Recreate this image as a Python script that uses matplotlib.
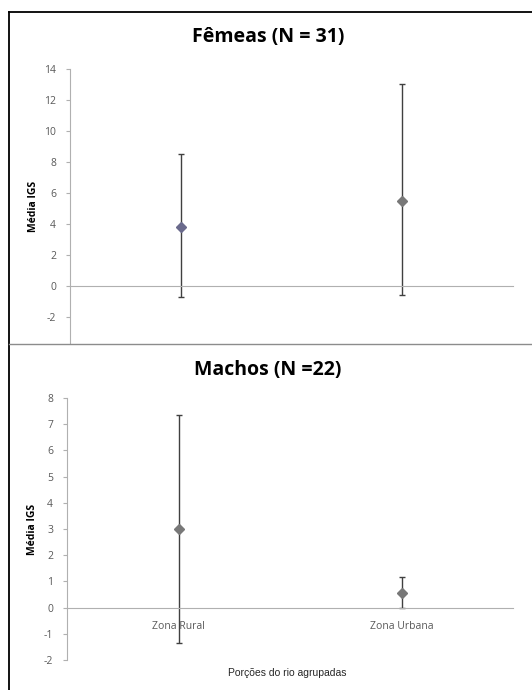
import matplotlib
matplotlib.use("Agg")
import matplotlib.pyplot as plt
from matplotlib.lines import Line2D

plt.rcParams["font.family"] = ["Open Sans", "DejaVu Sans"]

W, H = 532, 690
DPI = 100

categorias = ["Zona Rural", "Zona Urbana"]

# médias e limites das barras de erro (IGS)
femeas_media = [3.8, 5.5]
femeas_sup = [8.5, 13.0]
femeas_inf = [-0.7, -0.6]

machos_media = [3.0, 0.57]
machos_sup = [7.35, 1.15]
machos_inf = [-1.37, 0.0]

femeas_yticks = [-2, 0, 2, 4, 6, 8, 10, 12, 14]
machos_yticks = [-2, -1, 0, 1, 2, 3, 4, 5, 6, 7, 8]

TICK_COLOR = "#595959"
AXIS_COLOR = "#b0b0b0"


def px_axes(fig, x0, y0, x1, y1):
    """Eixos a partir de coordenadas em pixels (origem no canto superior)."""
    return fig.add_axes([x0 / W, 1 - y1 / H, (x1 - x0) / W, (y1 - y0) / H])


def painel(ax, medias, sup, inf, ylim, yticks, cores, mostrar_x):
    xs = list(range(len(medias)))
    for x, m, s, i, c in zip(xs, medias, sup, inf, cores):
        ax.errorbar([x], [m], yerr=[[m - i], [s - m]], fmt="none",
                    ecolor="#404040", elinewidth=1, capsize=2.3, capthick=1, zorder=2)
        ax.plot([x], [m], marker="D", markersize=5, color=c, linestyle="none", zorder=3)
    ax.set_xlim(-0.5, len(medias) - 0.5)
    ax.set_ylim(*ylim)
    ax.set_yticks(yticks)
    ax.set_yticklabels([str(t) for t in yticks], fontsize=7.5, color=TICK_COLOR)
    for side in ("top", "right"):
        ax.spines[side].set_visible(False)
    ax.spines["left"].set_color(AXIS_COLOR)
    ax.spines["bottom"].set_color(AXIS_COLOR)
    ax.spines["bottom"].set_position(("data", 0))
    ax.tick_params(axis="y", length=3, width=0.8, color=AXIS_COLOR, pad=7)
    ax.tick_params(axis="x", length=0, pad=10)
    ax.set_xticks(xs)
    if mostrar_x:
        ax.set_xticklabels(categorias, fontsize=7.5, color=TICK_COLOR)
    else:
        ax.set_xticklabels([])
    ax.set_ylabel("Média IGS", fontsize=7.5, fontweight="bold", labelpad=4)
    ax.patch.set_alpha(0)


fig = plt.figure(figsize=(W / DPI, H / DPI), dpi=DPI)

ax1 = px_axes(fig, 70, 69, 513, 343)
painel(ax1, femeas_media, femeas_sup, femeas_inf, (-3.68, 14), femeas_yticks,
       ["#6a6a8c", "#787878"], False)
fig.text(268 / W, 1 - 37 / H, "Fêmeas (N = 31)", ha="center", va="center",
         fontsize=14, fontweight="bold")

ax2 = px_axes(fig, 67, 398, 513, 660)
painel(ax2, machos_media, machos_sup, machos_inf, (-2, 8), machos_yticks,
       ["#787878", "#787878"], True)
fig.text(268 / W, 1 - 370 / H, "Machos (N =22)", ha="center", va="center",
         fontsize=14, fontweight="bold")
fig.text(287 / W, 1 - 673 / H, "Porções do rio agrupadas", ha="center", va="center",
         fontsize=7.5, color="#262626", family=["Liberation Sans", "DejaVu Sans"])

# moldura do quadro e divisória entre os painéis
fig.add_artist(Line2D([9 / W, 9 / W], [0, 1 - 12 / H], transform=fig.transFigure,
                      color="black", linewidth=1.3))
fig.add_artist(Line2D([9 / W, 1], [1 - 12 / H, 1 - 12 / H], transform=fig.transFigure,
                      color="black", linewidth=1.3))
fig.add_artist(Line2D([9 / W, 1], [1 - 344 / H, 1 - 344 / H], transform=fig.transFigure,
                      color="#8c8c8c", linewidth=1.0))

fig.savefig("out.png", dpi=DPI)
